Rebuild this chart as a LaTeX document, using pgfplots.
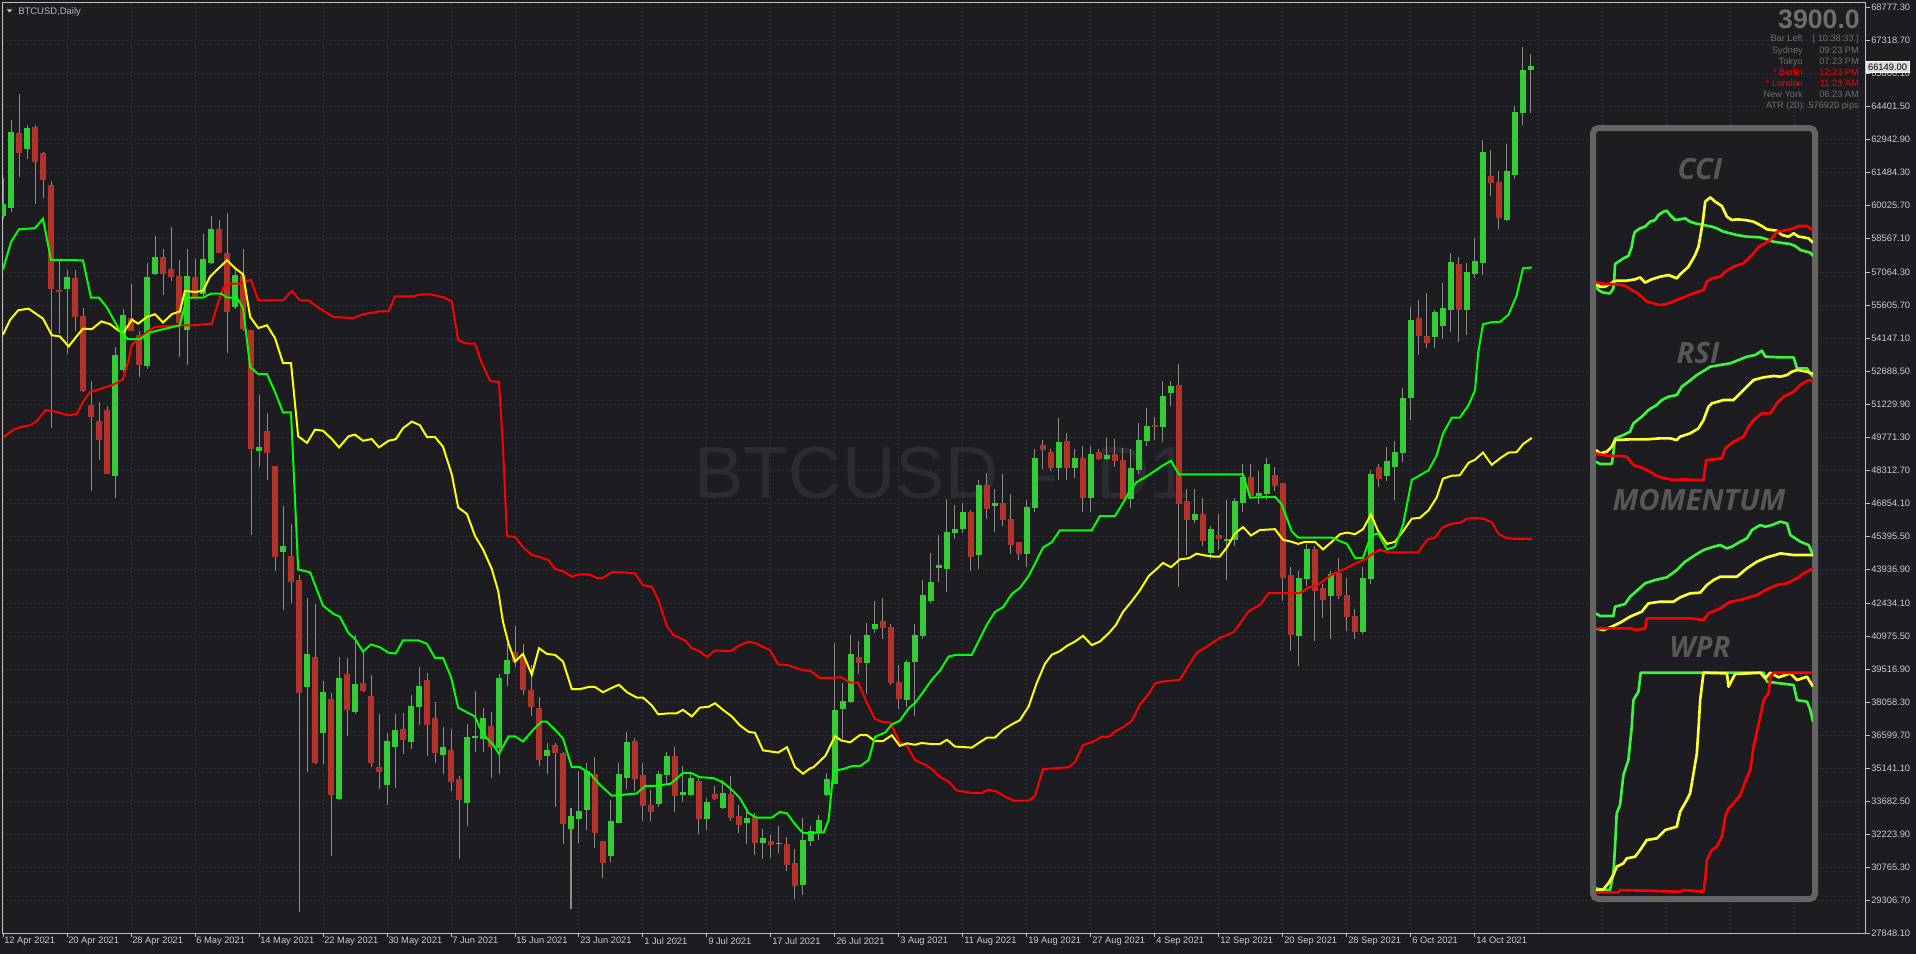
\documentclass[border=0pt]{standalone}
\usepackage{fontspec}
\setmainfont{Liberation Sans}
\newfontfamily\osans{Open Sans}
\usepackage{pgfplots}
\usepackage{pgfplotstable}
\pgfplotsset{compat=1.18}

\definecolor{cBg}{HTML}{1C1C21}
\definecolor{cGrid}{HTML}{2E2E36}
\definecolor{cFrame}{HTML}{C0C0C0}
\definecolor{cAx}{HTML}{C8CDD6}
\definecolor{cBull}{HTML}{32CD32}
\definecolor{cBear}{HTML}{B4322A}
\definecolor{cWick}{HTML}{8C8C8C}
\definecolor{lGreen}{HTML}{00FF00}
\definecolor{lYellow}{HTML}{FFFF00}
\definecolor{lRed}{HTML}{FF0000}
\definecolor{iGreen}{HTML}{3CF53C}
\definecolor{iYellow}{HTML}{FFFF32}
\definecolor{cWm}{HTML}{2B2B31}
\definecolor{cInfo}{HTML}{6E6E6E}
\definecolor{cPanel}{HTML}{646464}
\definecolor{cPTitle}{HTML}{575757}
\definecolor{cTitle}{HTML}{A4BCD4}
\definecolor{cBox}{HTML}{DCDCDC}

% daily candles, bar index from 12 Apr 2021
\pgfplotstableread{
i o h l c
0 59566 61210 59400 60032
1 59910 63785 59738 63246
2 63172 64938 61283 62338
3 62534 63540 62068 63417
4 63466 63540 60057 61945
5 62313 62363 60351 61161
6 60866 61087 50171 56328
7 56255 57653 54341 56206
8 56328 57162 53434 56843
9 56794 57162 54464 55102
10 55102 55494 51766 51839
11 51177 52256 47400 50686
12 50441 51324 48773 49656
13 50956 51128 48135 48160
14 48062 53728 47056 53360
15 52747 55445 52624 55151
16 55004 56524 54464 54489
17 54243 54464 52428 52992
18 52943 57457 52796 56843
19 57015 58634 56917 57726
20 57726 58070 56058 56990
21 57187 59051 56672 56868
22 56868 57604 53287 54832
23 54513 58070 52943 56868
24 56843 57653 55936 55985
25 56132 58757 55936 57604
26 57481 59542 57408 58928
27 58953 59370 57898 57923
28 57898 59664 53483 55323
29 55543 57162 55445 56917
30 56917 58070 54464 54562
31 54464 54464 45461 49264
32 49166 51643 48430 49313
33 50024 50834 47890 49092
34 48479 48479 43867 44480
35 44701 46712 42125 44946
36 44505 45927 42444 43377
37 43450 43671 28780 38470
38 38765 42641 34962 40139
39 40040 42396 35330 35379
40 36704 38985 35330 38495
41 38176 38470 31235 33957
42 33785 40040 33736 39108
43 39255 39991 36557 37735
44 37661 41021 37539 38814
45 38887 40285 38519 38568
46 38323 39255 35208 35379
47 35159 37539 34227 34987
48 34398 36680 33491 36335
49 36091 37539 34276 36778
50 36856 37575 35767 36389
51 36311 38354 35998 37867
52 37848 39599 37031 38743
53 39015 39326 35670 37070
54 37342 38062 35358 35825
55 35728 36953 34891 36059
56 35922 36875 34113 34541
57 34638 34775 31098 33744
58 33608 37089 32557 36506
59 36486 38548 35864 36525
60 36447 37809 35864 37342
61 36992 37614 34697 36098
62 36059 39307 34891 39112
63 39307 40630 38781 39910
64 40240 41407 39599 39852
65 40046 40610 38354 38626
66 38548 39696 37459 37848
67 37790 38295 35242 35514
68 35709 36253 34891 35903
69 36156 36253 33433 35825
70 35767 35864 31780 32694
71 32480 33374 28920 32985
72 32888 34989 31819 33200
73 33297 35378 32402 34989
74 34853 35631 31585 32285
75 31877 31877 30282 30943
76 31254 33725 31002 32791
77 32733 35378 32694 34834
78 34717 36740 34211 36253
79 36292 36448 34113 34697
80 34794 35378 32811 33491
81 33491 34152 32811 33200
82 33569 34989 33433 34834
83 34834 35864 34405 35670
84 35670 36059 33180 33919
85 33958 35242 33627 34055
86 33978 34931 33919 34658
87 34541 34697 32207 32908
88 32927 33822 32402 33627
89 33958 34347 33725 33783
90 33394 34599 33336 34036
91 33958 34794 32791 32947
92 32986 33491 32266 32655
93 32713 33433 31780 32908
94 32947 33141 31293 31838
95 31838 32460 31098 32013
96 31877 32168 31157 31741
97 31790 32557 31390 31810
98 31780 32071 30574 30866
99 30905 31546 29349 29952
100 29991 32947 29543 31955
101 31950 32600 31700 32350
102 32350 33050 31950 32800
103 33989 34937 33910 34621
104 34463 40668 34463 37668
105 37763 38884 36436 38094
106 38094 41015 38015 40178
107 40037 40747 39278 39799
108 39799 41568 38410 41015
109 41300 42515 41094 41489
110 41616 42673 40858 41363
111 41363 41489 38805 38916
112 38916 39673 37731 38205
113 38173 39910 37857 39799
114 39831 41489 37462 41015
115 40984 43463 40858 42784
116 42547 44647 42437 43321
117 44016 45437 43384 44095
118 43953 47016 42910 45548
119 45563 46779 45279 45705
120 45721 46858 45516 46416
121 46416 46542 43858 44489
122 44568 47884 43937 47648
123 47648 48200 46147 46621
124 46732 47489 45594 46811
125 46811 48121 45832 46116
126 46147 47253 44615 45042
127 45089 45121 44331 44615
128 44615 46984 44016 46668
129 46668 49226 46447 48800
130 49416 49621 48358 49226
131 49100 49226 48279 48437
132 48437 50616 47884 49542
133 49589 49937 47884 48437
134 48437 49226 47963 48800
135 48800 49384 46463 47095
136 47095 49384 46463 48989
137 49068 49226 48753 48816
138 48816 49732 48753 48958
139 48989 49700 48437 48721
140 48721 49305 47016 47047
141 47047 49226 46621 48358
142 48326 50411 48121 49621
143 49605 51042 49384 50253
144 50300 50647 49621 50253
145 50221 52226 49542 51547
146 51753 52258 51121 51990
147 52037 52984 43147 46826
148 46937 47489 44568 46147
149 46147 47489 45990 46368
150 46368 47095 44963 45195
151 44674 45832 44363 45697
152 45399 46348 44767 45288
153 45213 46999 43465 45250
154 45232 47055 44953 46906
155 46869 48580 46441 47985
156 47985 48580 47092 47185
157 47185 48264 46813 47259
158 47278 48859 46999 48543
159 48059 48450 47371 47613
160 47706 47743 42535 43558
161 43632 44023 40303 41047
162 41010 43837 39652 43521
163 43521 45046 43186 44804
164 44804 44953 40768 42999
165 43055 43279 41791 42590
166 42776 43837 40861 43707
167 43744 44431 42628 42758
168 42776 43558 41195 41828
169 41828 42163 40823 41177
170 41195 44023 41047 43502
171 43502 48301 43279 48115
172 48431 48580 47557 47929
173 48078 49324 47836 48673
174 48487 49603 46999 49101
175 49101 51928 48673 51463
176 51519 55499 50533 54904
177 54997 55834 53416 54253
178 54215 56150 53695 53937
179 54215 55369 53695 55295
180 54680 56578 54122 55462
181 55425 57917 54402 57471
182 57415 57731 53974 55406
183 55406 57452 54290 57025
184 56987 58568 56820 57545
185 57471 62902 56913 62363
186 61265 62437 60428 61023
187 61042 61507 58959 59461
188 59405 62716 59331 61488
189 61358 64390 61172 64130
190 64111 67031 63553 65971
191 66027 66715 64111 66157
}\candles

\begin{document}
\begin{tikzpicture}
\useasboundingbox (0pt,0pt) rectangle (1437pt,-715.5pt);
\begin{scope}[x=0.75pt,y=-0.75pt]
  \fill[cBg] (0,0) rectangle (1916,954);
  % watermark
  \node[anchor=base west, inner sep=0pt, text=cWm, font=\fontsize{55.5}{56}\selectfont] at (694,498) {BTCUSD};
  \node[anchor=base, inner sep=0pt, text=cWm, font=\fontsize{55.5}{56}\selectfont] at (1046,498) {-};
  \node[anchor=base west, inner sep=0pt, text=cWm, font=\fontsize{55.5}{56}\selectfont] at (1096,498) {D1};
\end{scope}

\begin{axis}[
  at={(1.5pt,-699.75pt)}, anchor=south west,
  scale only axis, width=1398pt, height=698.25pt,
  xmin=-0.125, xmax=232.875, ymin=27848.1, ymax=68998.3,
  axis line style={cFrame, line width=0.75pt},
  xtick={0,8,...,184},
  xticklabels={12 Apr 2021,20 Apr 2021,28 Apr 2021,6 May 2021,14 May 2021,22 May 2021,30 May 2021,7 Jun 2021,15 Jun 2021,23 Jun 2021,1 Jul 2021,9 Jul 2021,17 Jul 2021,26 Jul 2021,3 Aug 2021,11 Aug 2021,19 Aug 2021,27 Aug 2021,4 Sep 2021,12 Sep 2021,20 Sep 2021,28 Sep 2021,6 Oct 2021,14 Oct 2021},
  extra x ticks={192,200,...,232}, extra x tick labels={},
  extra x tick style={major tick length=0pt},
  ytick={27848.1,29306.7,30765.3,32223.9,33682.5,35141.1,36599.7,38058.3,39516.9,40975.5,42434.1,43936.9,45395.5,46854.1,48312.7,49771.3,51229.9,52688.5,54147.1,55605.7,57064.3,58567.1,60025.7,61484.3,62942.9,64401.5,65860.1,67318.7,68777.3},
  yticklabels={27848.10,29306.70,30765.30,32223.90,33682.50,35141.10,36599.70,38058.30,39516.90,40975.50,42434.10,43936.90,45395.50,46854.10,48312.70,49771.30,51229.90,52688.50,54147.10,55605.70,57064.30,58567.10,60025.70,61484.30,62942.90,64401.50,65860.10,67318.70,68777.30},
  scaled y ticks=false,
  xtick pos=bottom, ytick pos=right, yticklabel pos=right,
  tick align=outside, major tick length=3pt,
  tick style={cFrame, line width=0.75pt},
  grid=major,
  major grid style={cGrid, line width=0.75pt, dash pattern=on 1.5pt off 1.5pt},
  ticklabel style={font=\fontsize{7}{8}\selectfont, text=cAx, inner sep=0pt},
  xticklabel style={anchor=north west, xshift=0.75pt},
  yticklabel style={anchor=west, xshift=0.75pt},
]
\pgfplotsforeachungrouped \k in {0,...,191}{%
  \pgfplotstablegetelem{\k}{i}\of\candles \let\cI\pgfplotsretval
  \pgfplotstablegetelem{\k}{o}\of\candles \let\cO\pgfplotsretval
  \pgfplotstablegetelem{\k}{h}\of\candles \let\cH\pgfplotsretval
  \pgfplotstablegetelem{\k}{l}\of\candles \let\cL\pgfplotsretval
  \pgfplotstablegetelem{\k}{c}\of\candles \let\cC\pgfplotsretval
  \ifnum\cC<\cO\relax \def\bc{cBear}\else\def\bc{cBull}\fi
  \pgfmathsetmacro\xl{\cI-0.35}\pgfmathsetmacro\xr{\cI+0.35}%
  \edef\next{%
    \noexpand\draw[cWick, line width=0.75pt] (axis cs:\cI,\cL) -- (axis cs:\cI,\cH);
    \noexpand\filldraw[fill=\bc, draw=\bc, line width=0.75pt] (axis cs:\xl,\cO) rectangle (axis cs:\xr,\cC);%
  }\next
}

% red line
\addplot[lRed, line width=1.5pt, mark=none] coordinates {
(0,49754) (1.3,50097) (2.3,50220) (3.4,50294) (4.2,50465) (5.3,50956) (6.3,50907) (8.2,50735) (9.2,50784) (10,51324) (10.9,51766) (12.1,51888) (13.8,52085) (15,52330) (15.7,53164) (16.1,53851) (16.9,54096) (18.2,54464) (19,54636) (22.1,54709) (23.8,54709) (26.1,54783) (26.7,55494) (27.5,56353) (28.2,56549) (29.6,56549) (31,56721) (31.9,55813) (35,55813) (36.1,56230) (37.1,55813) (38.2,55813) (39.4,55494) (41.3,55077) (43.8,55028) (45,55200) (47.1,55323) (48.2,55323) (49,55985) (51.3,55995) (52.3,56073) (53.4,56073) (55,55956) (56.1,55761) (56.9,54050) (58,53894) (59,53894) (59.8,53077) (60.9,52241) (62,52202) (62.5,49285) (63,45395) (64,45356) (65,44908) (66.1,44558) (67.1,44461) (68.2,44325) (69,43936) (70,43839) (71.1,43605) (72.1,43703) (73.2,43703) (74.2,43547) (75,43547) (76.1,43800) (77.1,43800) (79,43741) (80,43216) (81.1,43157) (81.9,42574) (83,41407) (83.8,41018) (85.3,40766) (86.1,40435) (87.1,40299) (88,40046) (89,40338) (90.9,40299) (91.9,40532) (93.2,40727) (94,40668) (95.9,40338) (96.9,39715) (98,39700) (100,39462) (100.9,39436) (102.1,39121) (103.2,39121) (104.8,39152) (105.9,38916) (106.9,38916) (108,38015) (109,37305) (110,37179) (110.9,37147) (112.1,36278) (113,36121) (114,35489) (115.3,35284) (116.1,35094) (117.1,34747) (118.2,34542) (119.2,34147) (121.3,34037) (122.3,34037) (123.2,34179) (124.2,34100) (125.25,33878) (126.3,33705) (128.2,33705) (129,33910) (130,35094) (131.3,35126) (133.2,35173) (134,35410) (135,36152) (136.3,36310) (137.3,36515) (138.2,36515) (139,36752) (140,36942) (141.1,37226) (142.1,37936) (143.2,38410) (144,38884) (145,38963) (147.1,39042) (148.2,39673) (149.2,40226) (150.25,40463) (151.1,40652) (152.1,40889) (153.8,41140) (154.4,41419) (155.7,42070) (157.1,42349) (158.2,42870) (162.1,42870) (163.2,43130) (164.2,43186) (165,43410) (166.1,43688) (167.1,43837) (168.2,44023) (169.2,44209) (170.25,44358) (171.1,44581) (172.1,44804) (173,44674) (176.9,44674) (178,45232) (179,45325) (180,45790) (181.1,45939) (182.1,45976) (183,46162) (184,46199) (185,46162) (186.1,46013) (186.9,45511) (187.75,45325) (188.8,45269) (191.1,45269)
};
% yellow line
\addplot[lYellow, line width=1.5pt, mark=none] coordinates {
(0,54292) (0.9,54955) (1.9,55372) (3.2,55445) (4.2,55200) (5,55004) (6.1,54268) (7.1,54219) (8.2,53777) (9.2,54219) (10,54562) (11.1,54538) (12.3,54881) (13.4,54758) (14.2,54538) (15,54341) (16.1,54955) (16.9,54783) (18,55077) (19,55200) (20,54832) (21.1,55200) (22.1,55323) (22.75,56230) (24,56181) (25,56230) (25.9,56868) (26.9,57211) (28,57580) (29,57236) (30,56966) (30.9,55077) (31.9,54587) (33,54709) (34,54145) (35,53041) (36,53041) (36.9,49803) (38,49509) (39,50097) (40,50049) (41.1,49681) (42,49313) (43.2,49803) (44,49877) (45,49607) (46.1,49681) (47,49313) (48.2,49607) (49.1,49674) (50,50160) (51.1,50452) (52.1,50296) (53,49771) (54,49771) (55,49343) (56.1,48118) (56.9,46659) (58,46367) (59,45395) (60,44811) (61.1,43936) (61.9,42964) (62.5,41602) (63.2,40630) (64,39852) (65,40182) (66.1,39268) (67,40435) (68,40182) (69,40143) (70,39852) (71.1,38626) (72.1,38626) (73.2,38723) (74,38723) (75,38490) (76.1,38684) (77,38821) (78,38490) (79.2,38257) (80,38257) (81.1,37906) (81.9,37517) (83.2,37556) (84.2,37556) (85,37712) (86.1,37420) (87.1,37809) (88.2,37848) (89,38004) (90,37712) (91.1,37420) (92.1,37031) (93.2,36739) (94,36700) (95,35922) (96.1,35864) (96.9,35825) (98,36059) (99,35183) (100,34891) (100.9,35124) (101.3,35173) (102.8,35679) (104,36547) (104.8,36357) (105.9,36278) (107.1,36594) (108,36594) (109,36326) (110,36326) (111.1,36594) (112.1,36121) (113,36231) (114,36168) (114.8,36247) (116.1,36199) (117.1,36199) (118,36389) (119,36089) (121.1,36042) (122.1,36278) (123,36484) (124,36484) (125,36831) (126.1,37068) (127.1,37257) (128.2,37857) (129.2,38884) (130.25,39752) (131.1,40147) (132.1,40305) (133,40542) (134,40731) (135,40984) (136.1,40573) (137.1,40731) (138.2,41094) (139.1,41457) (140,42042) (141.1,42515) (142.1,42989) (143.2,43621) (144.2,43937) (145,44205) (146,44016) (147.1,44363) (148.2,44410) (149.2,44615) (150.25,44537) (151.3,44489) (152.1,44489) (153,44897) (154,45511) (155,45790) (156,45418) (157.1,45660) (159,45697) (160,45232) (161.1,45139) (161.9,45046) (162.75,45139) (164,45139) (165,44804) (166.1,45139) (167.1,45474) (168,45548) (169,45474) (170,45697) (171,46348) (171.9,45604) (173,45046) (174,45139) (175,45604) (176.1,46162) (177.1,46199) (178.2,46534) (179.2,47092) (180,47929) (181.1,48059) (182.1,48078) (183.2,48635) (184,48766) (185,49083) (186.1,48543) (187.1,48822) (188.2,49083) (189.2,49101) (190,49455) (191.1,49734)
};
% green line
\addplot[lGreen, line width=1.5pt, mark=none] coordinates {
(0,57162) (1,58389) (2,58953) (4,59002) (5,59419) (6,57604) (10,57580) (11,55936) (12,55936) (13,55494) (14.6,54464) (15.6,54096) (17.1,54096) (18.4,54390) (19.2,54464) (22.1,54709) (23,55936) (25,55936) (26,56107) (27.3,56107) (28,55936) (29.2,55936) (30,55494) (30.9,52870) (31.9,52550) (33,52550) (34,51766) (35,50858) (36,50858) (36.9,43916) (38.4,43793) (40,42321) (41.3,41953) (42.1,41831) (43.2,41095) (44,40850) (45,40285) (46,40604) (47.1,40481) (48.2,40236) (49.1,40201) (50,40785) (51.9,40785) (53,40630) (54,40007) (55,40007) (56,39171) (56.9,37809) (59,37420) (59.6,36934) (60.5,36447) (61.3,36156) (62,35767) (63.2,36545) (64,36545) (65,36311) (66.3,36837) (67.3,37187) (68,37187) (69,36837) (70,36447) (71.1,35183) (72.1,35183) (73.4,34891) (74.6,34405) (76.1,33919) (77.5,33958) (79.2,34016) (80.3,34347) (81.7,34347) (83.4,34444) (84,34599) (85,34931) (86,34931) (87.1,34736) (88.8,34697) (90,34502) (91,34211) (92.1,33822) (93.2,33141) (94.2,32947) (96.1,32947) (97.1,33200) (98,33141) (99,32655) (100,32266) (101,32270) (102.6,32300) (103.2,32840) (103.8,35015) (105,35094) (106.1,35220) (107.1,35220) (108.2,35489) (109,36515) (110.3,36720) (111.1,37068) (112.1,37226) (113.2,37779) (114,38015) (115,38489) (116.1,39042) (117.1,39436) (118.2,40068) (119.2,40147) (121.1,40147) (122.1,40857) (123,41489) (124,42042) (125,42247) (126.1,42831) (127.1,43100) (128.2,43621) (129,44174) (130,44884) (131.1,45121) (132.1,45642) (136.1,45642) (137.1,46274) (139,46274) (140,46858) (140.9,47410) (141.7,47774) (143,48042) (144,48279) (145,48516) (146,48721) (147,48121) (155,48115) (155.9,47092) (159,47129) (159.8,46813) (161.1,45604) (161.9,45325) (166.1,45325) (168,45046) (169,44431) (170,44431) (171,45418) (171.9,45511) (173,44804) (174,44916) (175,45883) (176.1,47873) (177.1,48078) (178.2,48301) (179.2,48952) (180,49919) (181.1,50626) (182.1,50626) (183.2,51184) (184,51835) (184.4,53509) (185,54755) (186.1,54848) (187.1,54848) (188.2,55183) (189.2,56020) (190,57229) (191.1,57266)
};
\end{axis}

\begin{scope}[x=0.75pt,y=-0.75pt]
  % current price box
  \filldraw[fill=cBox, draw=white] (1866,61.5) rectangle (1909,72.5);
  \node[inner sep=0pt, text=black, font=\fontsize{7}{8}\selectfont] at (1887.5,67.3) {66149.00};
  % title
  \fill[white!80!black] (6.7,9.3) -- (12.3,9.3) -- (9.5,12.5) -- cycle;
  \node[anchor=base west, inner sep=0pt, text=cTitle, font=\fontsize{7.1}{8}\selectfont] at (18,14.6) {BTCUSD,Daily};
  % info block
  \node[anchor=base east, inner sep=0pt, text=cInfo, font=\bfseries\fontsize{20}{20}\selectfont] at (1860,28) {3900.0};
  \begin{scope}[every node/.style={anchor=base east, inner sep=0pt, font=\fontsize{6.9}{8}\selectfont, text=cInfo}]
    \node at (1803,41.5) {Bar Left};  \node at (1859,41.5) {[ 10:38:33 ]};
    \node at (1803,53.5) {Sydney};    \node at (1859,53.5) {09:23 PM};
    \node at (1803,64.5) {Tokyo};     \node at (1859,64.5) {07:23 PM};
    \node[text=lRed] at (1803,75.5) {* Berlin};  \node[text=lRed] at (1859,75.5) {12:23 PM};
    \node[text=lRed] at (1803,86.5) {* London};  \node[text=lRed] at (1859,86.5) {11:23 AM};
    \node at (1803,97.5) {New York};  \node at (1859,97.5) {06:23 AM};
    \node at (1859,108.5) {ATR (20): 576920 pips};
  \end{scope}
  % indicator panel
  \fill[cBg, rounded corners=7.5pt] (1590,125) rectangle (1818,902);
  \draw[cPanel, line width=4.5pt, rounded corners=4pt] (1593,128) rectangle (1815,899);
  \begin{scope}[every node/.style={inner sep=0pt, text=cPTitle, font=\osans\bfseries\itshape\fontsize{22}{22}\selectfont}]
    \node at (1700,169) {CCI};
    \node at (1698,353) {RSI};
    \node at (1699,500) {MOMENTUM};
    \node at (1700,647) {WPR};
  \end{scope}
\end{scope}

\begin{axis}[
  at={(1197pt,-672pt)}, anchor=south west,
  scale only axis, width=162.75pt, height=573.75pt,
  xmin=48, xmax=698, ymin=33, ymax=2328, y dir=reverse,
  axis lines=none, clip=true,
  every axis plot/.append style={line width=2pt, mark=none, line join=round},
]
% CCI
\addplot[iGreen] coordinates {(48,495) (55,510) (70,518) (90,520) (100,505) (103,470) (105,432) (115,425) (130,415) (145,408) (155,380) (160,350) (165,335) (180,325) (195,320) (210,305) (225,300) (235,285) (250,275) (260,272) (270,285) (285,300) (300,298) (315,295) (330,305) (345,310) (370,315) (395,320) (410,325) (430,335) (450,340) (470,345) (500,350) (540,352) (560,358) (580,365) (600,368) (630,372) (645,378) (660,390) (690,398) (698,408)};
\addplot[iYellow] coordinates {(48,490) (60,500) (75,500) (90,492) (100,485) (110,482) (140,482) (165,478) (180,472) (195,488) (215,478) (240,470) (265,465) (290,475) (300,463) (325,440) (345,405) (355,380) (362,340) (368,305) (375,245) (390,232) (405,245) (425,258) (440,290) (455,300) (470,298) (495,300) (520,305) (545,318) (560,328) (590,332) (605,345) (625,350) (640,340) (655,350) (670,352) (685,355) (698,368)};
\addplot[lRed] coordinates {(48,487) (75,492) (100,492) (125,495) (140,500) (155,510) (170,518) (185,530) (200,545) (220,550) (240,555) (255,553) (270,548) (290,540) (320,528) (345,518) (370,510) (380,485) (395,475) (420,470) (435,455) (460,440) (490,430) (505,415) (520,400) (535,380) (555,370) (575,355) (590,335) (620,330) (640,325) (655,318) (680,318) (698,330)};
% RSI
\addplot[iGreen] coordinates {(48,1025) (60,1032) (95,1032) (100,1000) (105,955) (130,945) (150,935) (160,910) (185,890) (205,870) (230,855) (245,840) (265,830) (290,825) (305,800) (325,785) (350,765) (375,750) (390,740) (420,735) (450,730) (480,718) (500,710) (525,705) (545,692) (555,710) (600,712) (640,712) (650,745) (680,745) (690,760) (698,770)};
\addplot[iYellow] coordinates {(48,990) (60,1000) (80,995) (95,980) (105,960) (150,958) (200,958) (240,955) (270,955) (290,960) (300,950) (330,940) (355,925) (370,900) (385,860) (395,850) (430,840) (460,840) (480,820) (500,800) (520,780) (550,772) (580,768) (600,770) (620,765) (635,755) (650,750) (680,755) (698,762)};
\addplot[lRed] coordinates {(48,1000) (70,1005) (90,1008) (120,1008) (140,1010) (160,1035) (190,1045) (210,1055) (230,1068) (255,1075) (280,1080) (310,1078) (340,1080) (370,1080) (378,1020) (400,1018) (425,1015) (435,985) (460,965) (490,950) (505,920) (520,900) (545,880) (570,880) (590,850) (610,830) (640,815) (660,795) (680,782) (698,780)};
% MOMENTUM
\addplot[iGreen] coordinates {(48,1480) (60,1488) (100,1488) (105,1460) (135,1452) (150,1430) (175,1408) (195,1390) (225,1380) (260,1372) (290,1350) (315,1325) (345,1305) (370,1290) (400,1280) (420,1275) (440,1285) (455,1280) (480,1265) (500,1255) (515,1230) (540,1215) (555,1220) (575,1215) (600,1205) (620,1210) (630,1245) (660,1265) (685,1275) (698,1305)};
\addplot[iYellow] coordinates {(48,1525) (70,1530) (95,1520) (120,1508) (150,1490) (185,1475) (205,1450) (240,1445) (280,1445) (300,1432) (330,1420) (360,1418) (380,1395) (400,1380) (420,1370) (470,1370) (500,1345) (530,1325) (560,1312) (585,1305) (600,1300) (640,1305) (698,1305)};
\addplot[lRed] coordinates {(48,1525) (80,1525) (150,1525) (170,1530) (195,1525) (200,1495) (260,1495) (330,1495) (370,1500) (385,1480) (420,1465) (450,1445) (480,1440) (530,1425) (560,1408) (590,1395) (620,1390) (650,1375) (670,1360) (698,1345)};
% WPR
\addplot[iGreen] coordinates {(48,2305) (60,2308) (90,2310) (100,2260) (105,2180) (110,2080) (120,2055) (130,1965) (145,1920) (155,1820) (160,1740) (175,1715) (182,1658) (550,1658) (560,1685) (600,1690) (640,1695) (650,1740) (680,1745) (690,1770) (698,1805)};
\addplot[iYellow] coordinates {(48,2310) (70,2308) (85,2290) (100,2265) (110,2240) (130,2230) (140,2215) (165,2210) (180,2190) (200,2160) (230,2155) (255,2130) (290,2120) (300,2075) (320,2040) (330,2020) (340,1960) (350,1900) (355,1825) (360,1740) (370,1658) (440,1660) (445,1700) (455,1680) (465,1662) (540,1658) (555,1675) (570,1658) (595,1672) (630,1660) (650,1680) (680,1670) (698,1700)};
\addplot[lRed] coordinates {(48,2317) (115,2317) (120,2310) (300,2315) (310,2310) (370,2315) (375,2280) (380,2220) (395,2190) (410,2180) (425,2150) (435,2090) (445,2065) (460,2050) (480,2025) (495,1985) (510,1950) (520,1880) (540,1790) (550,1740) (565,1720) (570,1670) (580,1658) (698,1658)};
\end{axis}
\end{tikzpicture}
\end{document}
